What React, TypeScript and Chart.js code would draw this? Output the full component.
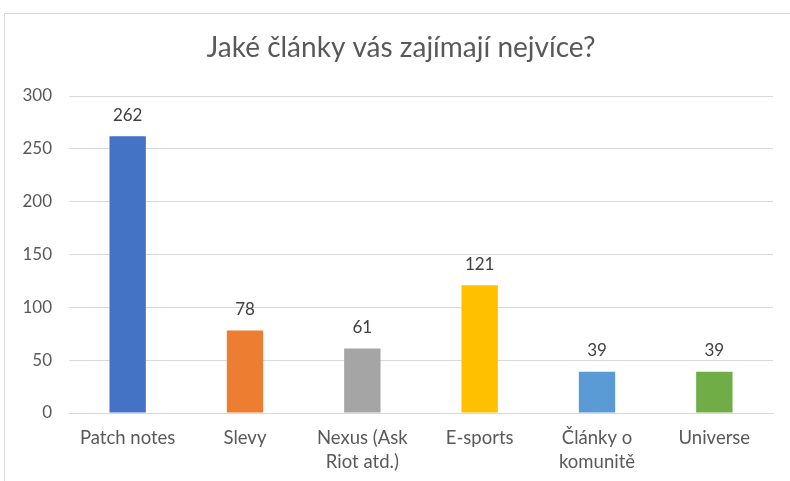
import React, { useEffect, useRef } from "react";
import { Chart, registerables } from "chart.js";

Chart.register(...registerables);

const titleText = "Jaké články vás zajímají nejvíce?";
const categories: (string | string[])[] = [
  "Patch notes",
  "Slevy",
  ["Nexus (Ask", "Riot atd.)"],
  "E-sports",
  ["Články o", "komunitě"],
  "Universe",
];
const values = [262, 78, 61, 121, 39, 39];
const barColors = ["#4472C4", "#ED7D31", "#A5A5A5", "#FFC000", "#5B9BD5", "#70AD47"];
const yMin = 0;
const yMax = 300;
const yStep = 50;

const FONT = "Lato, 'Open Sans', sans-serif";

const frameAndLabels = {
  id: "frameAndLabels",
  beforeDraw(chart: any) {
    const ctx = chart.ctx;
    ctx.save();
    ctx.fillStyle = "#ffffff";
    ctx.fillRect(0, 0, chart.width, chart.height);
    ctx.strokeStyle = "#d9d9d9";
    ctx.lineWidth = 1;
    ctx.strokeRect(4.5, 13.5, chart.width + 20, chart.height + 20);
    ctx.fillStyle = "#595959";
    ctx.font = `28px ${FONT}`;
    ctx.textAlign = "center";
    ctx.textBaseline = "middle";
    ctx.fillText(titleText, 401, 48);
    ctx.restore();
  },
  afterDatasetsDraw(chart: any) {
    const ctx = chart.ctx;
    const meta = chart.getDatasetMeta(0);
    const data = chart.data.datasets[0].data;
    ctx.save();
    ctx.fillStyle = "#404040";
    ctx.font = `17px ${FONT}`;
    ctx.textAlign = "center";
    ctx.textBaseline = "middle";
    meta.data.forEach((bar: any, i: number) => {
      ctx.fillText(String(data[i]), bar.x, bar.y - 21);
    });
    ctx.restore();
  },
};

export default function App() {
  const ref = useRef<HTMLCanvasElement>(null);
  useEffect(() => {
    if (!ref.current) return;
    const chart = new Chart(ref.current, {
      type: "bar",
      data: {
        labels: categories,
        datasets: [
          {
            data: values,
            backgroundColor: barColors,
            borderWidth: 0,
            categoryPercentage: 1,
            barPercentage: 0.31,
          },
        ],
      },
      options: {
        animation: false,
        responsive: false,
        maintainAspectRatio: false,
        layout: { padding: { left: 0, right: 17, top: 96, bottom: 0 } },
        plugins: {
          legend: { display: false },
          tooltip: { enabled: false },
          title: { display: false },
        },
        scales: {
          x: {
            grid: { display: false, drawTicks: false },
            border: { display: true, color: "#d9d9d9", width: 1 },
            ticks: {
              color: "#595959",
              font: { family: FONT, size: 18.5, lineHeight: 1.3 },
              padding: 13,
              maxRotation: 0,
              autoSkip: false,
            },
            afterFit(scale: any) {
              scale.height = 68;
            },
          },
          y: {
            min: yMin,
            max: yMax,
            grid: { color: "#d9d9d9", lineWidth: 1, drawTicks: false },
            border: { display: false },
            ticks: {
              stepSize: yStep,
              color: "#595959",
              font: { family: FONT, size: 17 },
              padding: 17,
            },
            afterFit(scale: any) {
              scale.width = 69;
            },
          },
        },
      },
      plugins: [frameAndLabels],
    });
    return () => chart.destroy();
  }, []);
  return (
    <div style={{ position: "fixed", left: 0, top: 0, width: 790, height: 481 }}>
      <canvas ref={ref} width={790} height={481} style={{ display: "block" }} />
    </div>
  );
}
